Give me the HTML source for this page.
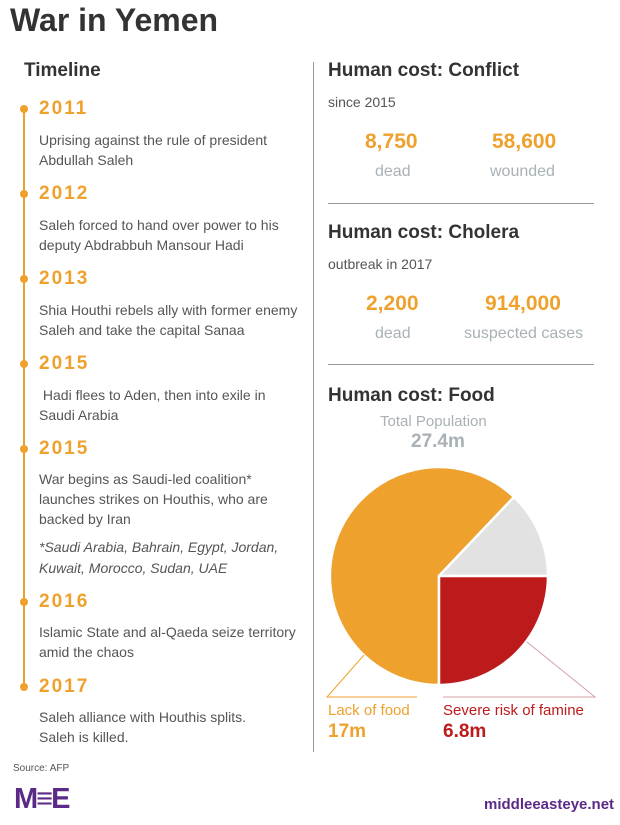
<!DOCTYPE html>
<html><head><meta charset="utf-8"><style>
body{margin:0;width:620px;height:825px;background:#fff;position:relative;overflow:hidden;font-family:"Liberation Sans",sans-serif;color:#444}
.a{position:absolute;white-space:nowrap}
h1{position:absolute;left:10px;top:2px;margin:0;font-size:32px;color:#333;font-weight:bold}
.h{font-size:19px;font-weight:bold;color:#333}
.y{font-size:19px;font-weight:bold;color:#eea12c;letter-spacing:2px}
.t{font-size:14px;line-height:20px;color:#555}
.n{font-size:21px;font-weight:bold;color:#eea12c}
.l{font-size:16px;color:#a8b1b6}
.dot{position:absolute;left:20px;width:8px;height:8px;border-radius:50%;background:#eea12c}
</style></head><body>
<h1>War in Yemen</h1>
<div class="a h" style="left:24px;top:60px">Timeline</div>
<div style="position:absolute;left:23px;top:108px;width:2px;height:582px;background:#eea12c"></div>
<div style="position:absolute;left:313px;top:62px;width:1px;height:690px;background:#999"></div>

<div class="dot" style="top:105px"></div><div class="a y" style="left:39px;top:98px">2011</div>
<div class="a t" style="left:39px;top:130px">Uprising against the rule of president<br>Abdullah Saleh</div>
<div class="dot" style="top:190px"></div><div class="a y" style="left:39px;top:183px">2012</div>
<div class="a t" style="left:39px;top:215px">Saleh forced to hand over power to his<br>deputy Abdrabbuh Mansour Hadi</div>
<div class="dot" style="top:275px"></div><div class="a y" style="left:39px;top:268px">2013</div>
<div class="a t" style="left:39px;top:300px">Shia Houthi rebels ally with former enemy<br>Saleh and take the capital Sanaa</div>
<div class="dot" style="top:360px"></div><div class="a y" style="left:39px;top:353px">2015</div>
<div class="a t" style="left:39px;top:385px">&nbsp;Hadi flees to Aden, then into exile in<br>Saudi Arabia</div>
<div class="dot" style="top:445px"></div><div class="a y" style="left:39px;top:438px">2015</div>
<div class="a t" style="left:39px;top:469px">War begins as Saudi-led coalition*<br>launches strikes on Houthis, who are<br>backed by Iran</div>
<div class="a t" style="left:39px;top:537px;font-style:italic;font-size:14px;line-height:21px">*Saudi Arabia, Bahrain, Egypt, Jordan,<br>Kuwait, Morocco, Sudan, UAE</div>
<div class="dot" style="top:598px"></div><div class="a y" style="left:39px;top:591px">2016</div>
<div class="a t" style="left:39px;top:622px">Islamic State and al-Qaeda seize territory<br>amid the chaos</div>
<div class="dot" style="top:683px"></div><div class="a y" style="left:39px;top:676px">2017</div>
<div class="a t" style="left:39px;top:707px">Saleh alliance with Houthis splits.<br>Saleh is killed.</div>

<div class="a h" style="left:328px;top:60px">Human cost: Conflict</div>
<div class="a t" style="left:328px;top:92px">since 2015</div>
<div class="a n" style="left:365px;top:130px">8,750</div>
<div class="a l" style="left:375px;top:163px">dead</div>
<div class="a n" style="left:492px;top:130px">58,600</div>
<div class="a l" style="left:490px;top:163px">wounded</div>
<div style="position:absolute;left:328px;top:203px;width:266px;height:1px;background:#999"></div>
<div class="a h" style="left:328px;top:222px">Human cost: Cholera</div>
<div class="a t" style="left:328px;top:254px">outbreak in 2017</div>
<div class="a n" style="left:366px;top:292px">2,200</div>
<div class="a l" style="left:375px;top:325px">dead</div>
<div class="a n" style="left:485px;top:292px">914,000</div>
<div class="a l" style="left:464px;top:325px">suspected cases</div>
<div style="position:absolute;left:328px;top:364px;width:266px;height:1px;background:#999"></div>
<div class="a h" style="left:328px;top:385px">Human cost: Food</div>
<div class="a l" style="left:380px;top:413px;font-size:15px">Total Population</div>
<div class="a" style="left:411px;top:431px;font-size:19px;font-weight:bold;color:#a8b1b6">27.4m</div>

<svg style="position:absolute;left:0;top:0" width="620" height="825">
<g stroke="#fff" stroke-width="2.5" stroke-linejoin="round">
<path d="M439,576 L514,497 A109,109 0 1 0 439,685 Z" fill="#eea12c"/>
<path d="M439,576 L548,576 A109,109 0 0 0 514,497 Z" fill="#e2e2e2"/>
<path d="M439,576 L439,685 A109,109 0 0 0 548,576 Z" fill="#bd1a1c"/>
</g>
<polyline points="364,655 327,697 417,697" fill="none" stroke="#eea12c" stroke-width="1"/>
<polyline points="527,642 595,697 443,697" fill="none" stroke="#d6a0a6" stroke-width="1"/>
</svg>
<div class="a" style="left:328px;top:702px;font-size:15px;color:#eea12c">Lack of food</div>
<div class="a" style="left:328px;top:721px;font-size:19px;font-weight:bold;color:#eea12c">17m</div>
<div class="a" style="left:443px;top:702px;font-size:15px;color:#bd1a1c">Severe risk of famine</div>
<div class="a" style="left:443px;top:721px;font-size:19px;font-weight:bold;color:#bd1a1c">6.8m</div>

<div class="a" style="left:13px;top:763px;font-size:10px;color:#555">Source: AFP</div>
<div class="a" style="left:14px;top:785px;font-size:29px;font-weight:bold;color:#5b2a86;letter-spacing:-2px;line-height:28px">M&#x2261;E</div>
<div class="a" style="left:484px;top:796px;font-size:15px;font-weight:bold;color:#5b2a86">middleeasteye.net</div>
</body></html>
